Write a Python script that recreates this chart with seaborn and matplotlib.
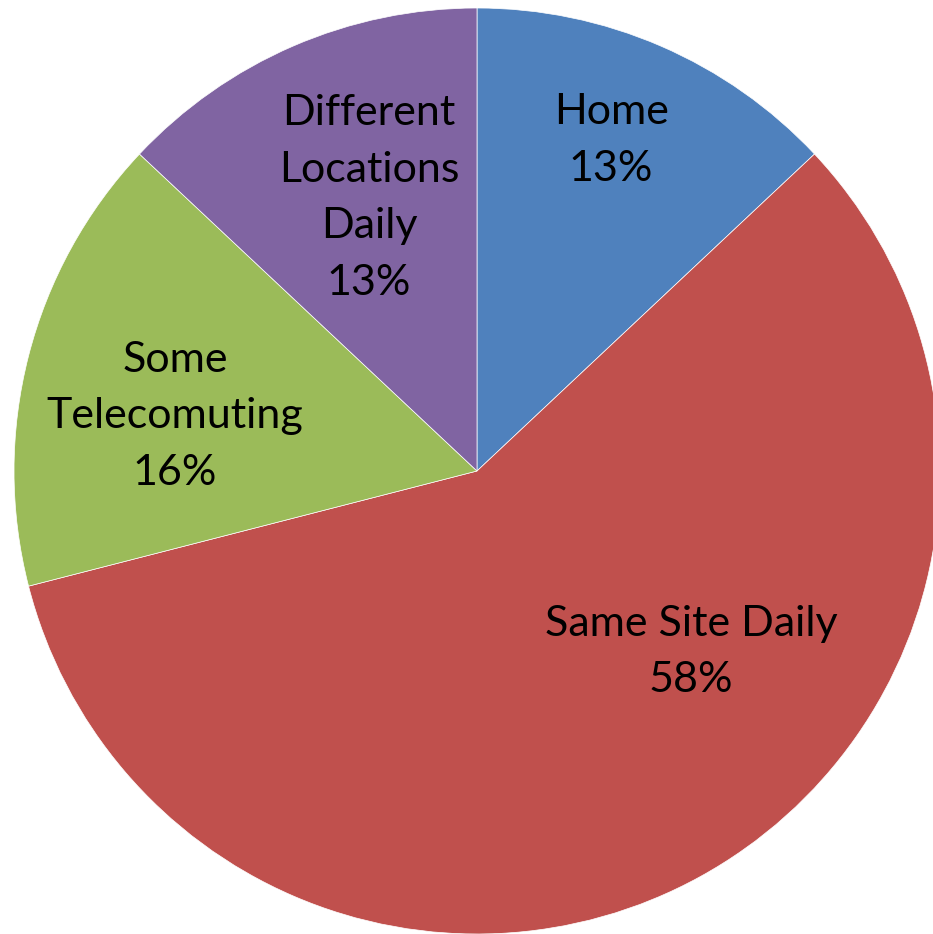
import numpy as np
import matplotlib
matplotlib.use("Agg")
import matplotlib.pyplot as plt
import seaborn as sns

# data
categories = ['Home', 'Same Site Daily', 'Some\nTelecomuting', 'Different\nLocations\nDaily']
shares = [13, 58, 16, 13]
colors = ['#4F81BD', '#C0504D', '#9BBB59', '#8064A2']

# label placement: (radius, clockwise angle shift in degrees) per slice
label_pos = [(0.77, -1.3), (0.605, -21.0), (0.663, -4.1), (0.634, 1.8)]

sns.set_style("white")
plt.rcParams['font.family'] = ['Lato', 'DejaVu Sans']

fig = plt.figure(figsize=(9.33, 9.34), dpi=100)
ax = fig.add_axes([0, 0, 1, 1])

wedges, _ = ax.pie(shares, colors=colors, startangle=90, counterclock=False,
                   wedgeprops=dict(edgecolor='white', linewidth=0.5))

for w, cat, val, (r, shift) in zip(wedges, categories, shares, label_pos):
    mid = np.deg2rad((w.theta1 + w.theta2) / 2 - shift)
    ax.text(r * np.cos(mid), r * np.sin(mid), f'{cat}\n{val}%',
            ha='center', va='center', fontsize=31, color='black',
            linespacing=1.6)

ax.set_xlim(-477 / 463, 456 / 463)
ax.set_ylim(-463 / 463, 471 / 463)
ax.set_aspect('auto')
ax.axis('off')

fig.savefig('out.png', dpi=100)
